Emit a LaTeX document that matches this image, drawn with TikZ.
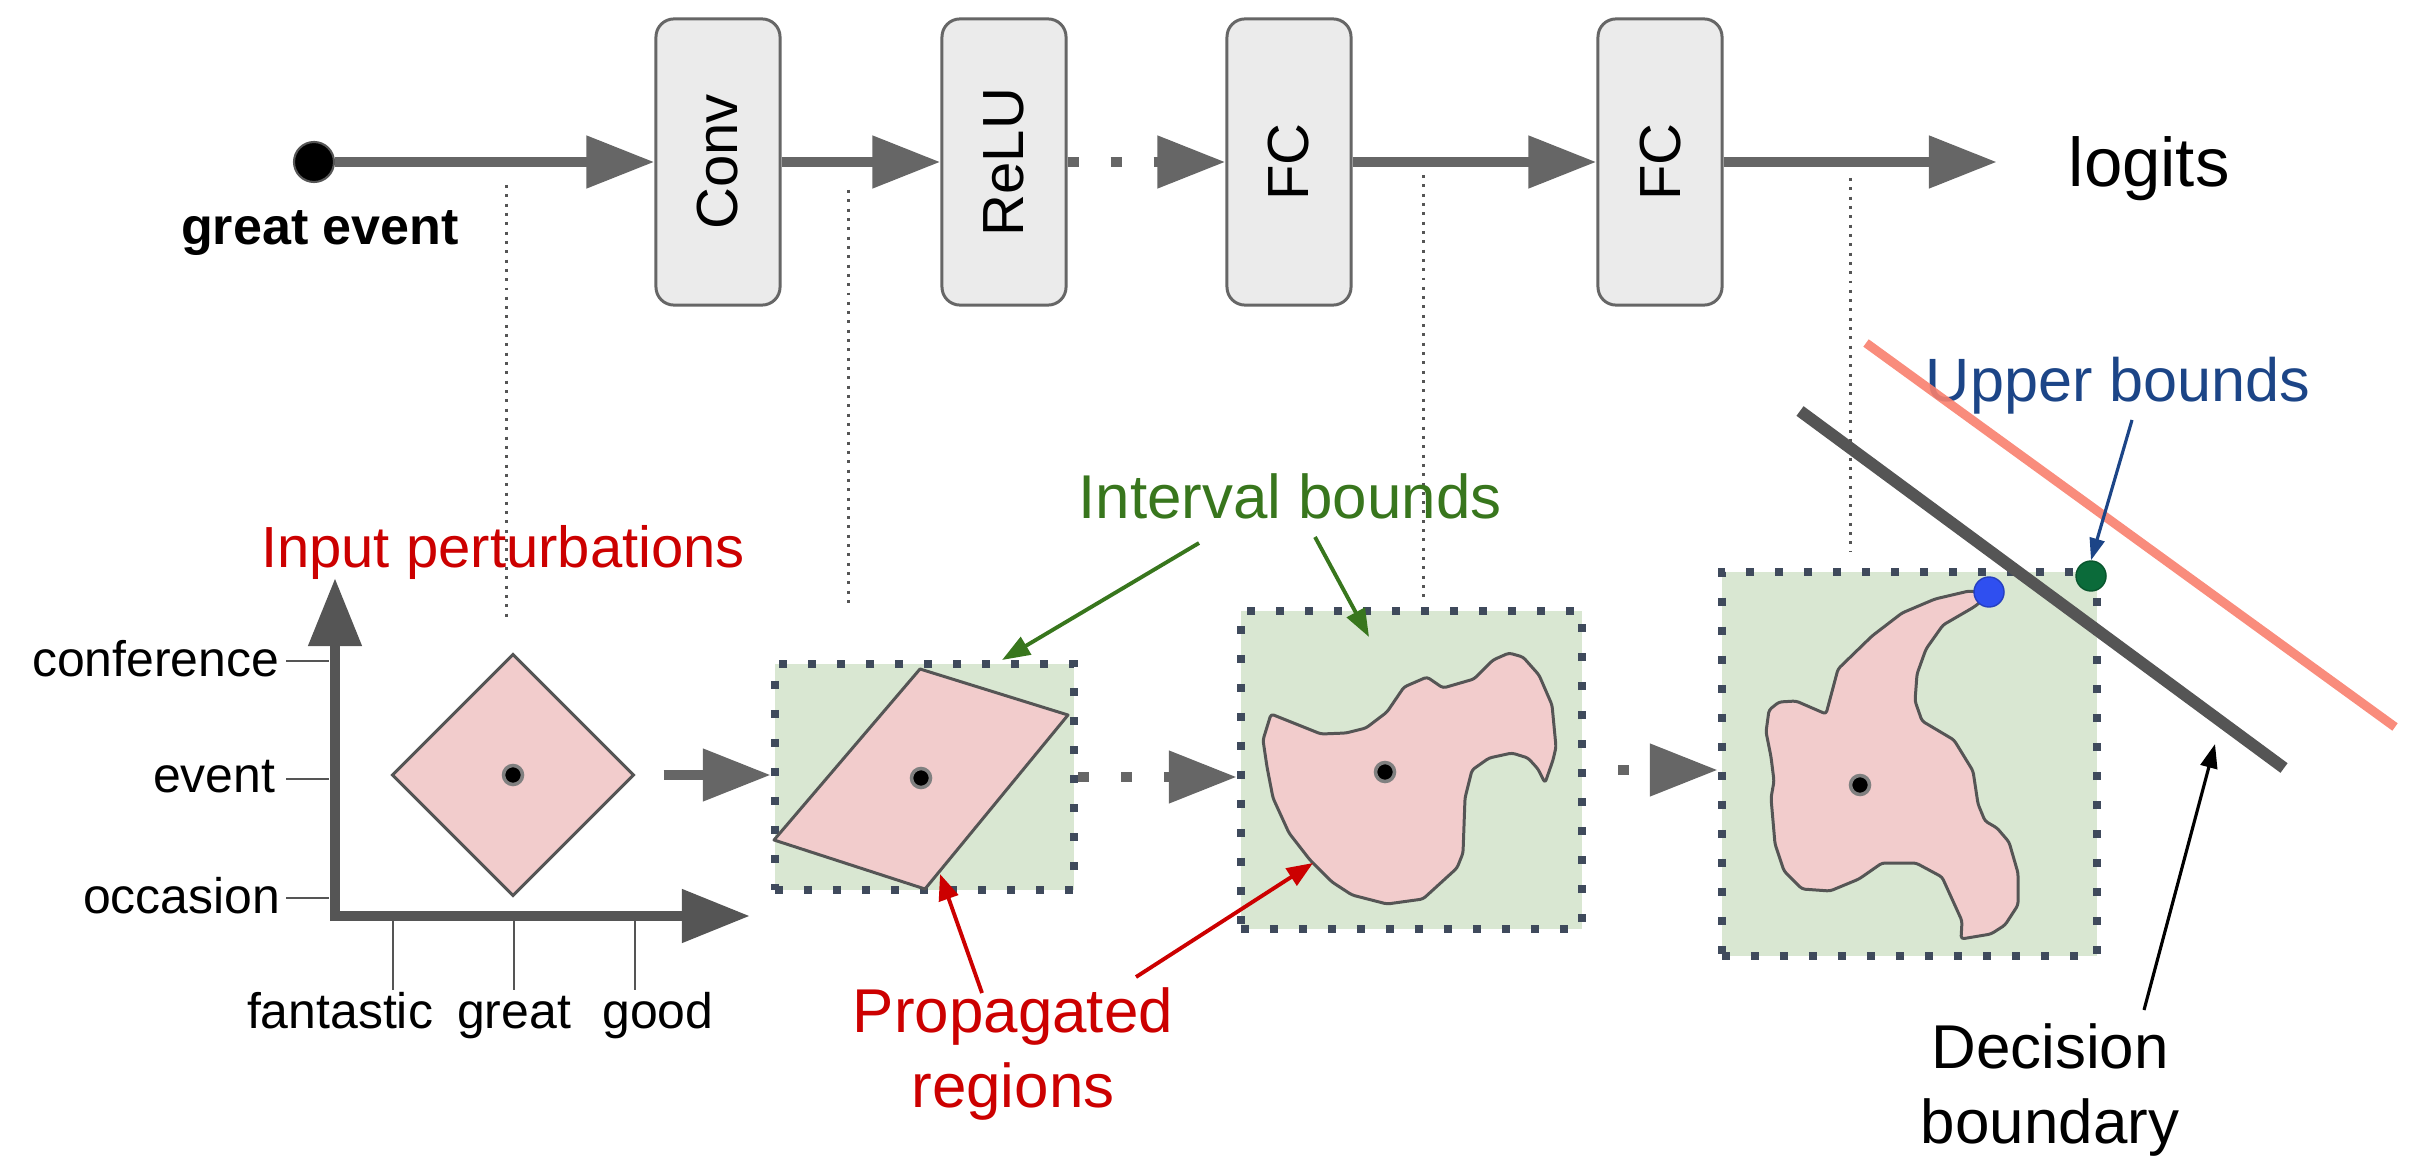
\documentclass[tikz,border=0pt]{standalone}
\usepackage{fontspec}
\usepackage{graphicx}
\setmainfont{Liberation Sans}
\usetikzlibrary{arrows.meta,shapes.geometric}
\definecolor{arrowgray}{HTML}{666666}
\definecolor{axisgray}{HTML}{555555}
\definecolor{boxfill}{HTML}{EBEBEB}
\definecolor{pinkfill}{HTML}{F2CCCC}
\definecolor{greenfill}{HTML}{D9E7D2}
\definecolor{bordercol}{HTML}{3F4A5C}
\definecolor{ibgreen}{HTML}{38761D}
\definecolor{pred}{HTML}{CC0000}
\definecolor{ubblue}{HTML}{1C4587}
\definecolor{salmonline}{HTML}{F8806E}
\definecolor{dotgreen}{HTML}{0B6B3A}
\definecolor{dotblue}{HTML}{2F4FF0}
\tikzset{
  layerbox/.style={draw=arrowgray, fill=boxfill, line width=0.85pt, rounded corners=0.18cm,
    minimum width=1.24cm, minimum height=2.86cm, inner sep=0pt, font=\fontsize{16.5}{20}\selectfont},
  flowarrow/.style={draw=arrowgray, line width=3.1pt, -{Triangle[length=0.68cm,width=0.5cm]}},
  dotflow/.style={flowarrow, dash pattern=on 3.13pt off 9.1pt},
  axisline/.style={draw=axisgray, line width=3.1pt, -{Triangle[length=0.68cm,width=0.51cm]}},
  axtick/.style={draw=axisgray, line width=0.8pt},
  axlabel/.style={font=\fontsize{14.2}{17}\selectfont, inner sep=0pt},
  ibox/.style={fill=greenfill, draw=bordercol, line width=2.3pt, dash pattern=on 2.3pt off 5.95pt, inner sep=0pt},
  pinkregion/.style={draw=axisgray, fill=pinkfill, line width=0.85pt, line join=round},
  cdot/.style={circle, fill=black, draw=gray, line width=1pt, minimum size=0.19cm, inner sep=0pt},
  vdots/.style={draw=axisgray, line width=0.85pt, dash pattern=on 0.85pt off 1.8pt},
  garrow/.style={draw=ibgreen, line width=1.1pt, -{Triangle[length=0.28cm,width=0.2cm]}},
  rarrow/.style={draw=pred, line width=1.1pt, -{Triangle[length=0.26cm,width=0.2cm]}},
  barrow/.style={draw=ubblue, line width=0.9pt, -{Triangle[length=0.22cm,width=0.15cm]}},
  karrow/.style={draw=black, line width=0.9pt, -{Triangle[length=0.24cm,width=0.17cm]}},
  biglabel/.style={inner sep=0pt, font=\fontsize{17.6}{21.3}\selectfont, align=center}
}
\begin{document}
\begin{tikzpicture}[x=0.01cm,y=-0.01cm]
\useasboundingbox (0,0) rectangle (2422,1158);

% ---------- top pipeline ----------
\node[layerbox] (conv) at (718,162) {\rotatebox{90}{Conv}};
\node[layerbox] (relu) at (1004,162) {\rotatebox{90}{ReLU}};
\node[layerbox] (fc1) at (1289,162) {\rotatebox{90}{FC}};
\node[layerbox] (fc2) at (1660,162) {\rotatebox{90}{FC}};
\node[circle, fill=black, draw=axisgray, line width=0.6pt, minimum size=0.4cm, inner sep=0pt] (src) at (314,162) {};
\node[anchor=base, inner sep=0pt, font=\fontsize{14.8}{18}\selectfont\bfseries] (inp) at (320,245) {great event};
\node[anchor=base west, inner sep=0pt, font=\fontsize{19.6}{24}\selectfont] (logits) at (2068,187) {logits};
\coordinate (ltip) at (1997,162);

\draw[flowarrow] (src.east) -- (conv.west);
\draw[flowarrow] (conv.east) -- (relu.west);
\draw[dotflow] (relu.east) -- (fc1.west);
\draw[flowarrow] (fc1.east) -- (fc2.west);
\draw[flowarrow] (fc2.east) -- (ltip);

% dotted guide lines
\draw[vdots] (506,185) -- (506,618);
\draw[vdots] (848,190) -- (848,606);
\draw[vdots] (1423,175) -- (1423,603);
\draw[vdots] (1850,178) -- (1850,551);

% ---------- input space ----------
\coordinate (origin) at (335,916);
\draw[axisline] (335,921) -- (335,578);
\draw[axisline] (330,916) -- (750,916);
\draw[axtick] (286,661) -- (329,661);
\draw[axtick] (286,779) -- (329,779);
\draw[axtick] (286,898) -- (329,898);
\draw[axtick] (393,921) -- (393,990);
\draw[axtick] (514,921) -- (514,990);
\draw[axtick] (635,921) -- (635,990);
\node[axlabel, anchor=east] (lconf) at (280,659) {conference};
\node[axlabel, anchor=east] (levent) at (276,777) {event};
\node[axlabel, anchor=east] (locc) at (281,896) {occasion};
\node[axlabel, anchor=base] (lfan) at (340,1028) {fantastic};
\node[axlabel, anchor=base] (lgreat) at (514,1028) {great};
\node[axlabel, anchor=base] (lgood) at (658,1028) {good};

\node[diamond, aspect=1, draw=axisgray, fill=pinkfill, line width=0.85pt,
      minimum width=2.42cm, minimum height=2.42cm, inner sep=0pt] (diam) at (513,775) {};
\node[cdot] (c0) at (513,775) {};
\node[inner sep=0pt, anchor=base, text=pred, font=\fontsize{16.5}{20}\selectfont] (ipert) at (503,567) {Input perturbations};

% ---------- box 1 ----------
\node[ibox, minimum width=2.99cm, minimum height=2.26cm] (b1) at (924.5,777) {};
\draw[pinkregion] (920,669) -- (1068,715) -- (925,889) -- (774,840) -- cycle;
\node[cdot] (c1) at (921,778) {};
\draw[flowarrow, shorten <=0.28cm] (diam.east) -- (diam.east -| b1.west);

% ---------- box 2 ----------
\node[ibox, minimum width=3.41cm, minimum height=3.18cm] (b2) at (1411.5,770) {};
\draw[pinkregion, rounded corners=0.03cm] (1271,714) -- (1321,734) -- (1346,733) -- (1366,728) -- (1387,712) -- (1404,687) -- (1427,677) -- (1443,688) -- (1474,679) -- (1493,660) -- (1509,653) -- (1523,657) -- (1539,675) -- (1552,705) -- (1556,747) -- (1553,760) -- (1545,783) -- (1538,769) -- (1528,758) -- (1512,753) -- (1489,758) -- (1472,770) -- (1465,798) -- (1463,853) -- (1457,868) -- (1423,899) -- (1387,904) -- (1352,895) -- (1332,882) -- (1310,860) -- (1289,833) -- (1273,798) -- (1267,767) -- (1263,740) -- cycle;
\node[cdot] (c2) at (1385,772) {};
\draw[dotflow] (b1.east) -- (b1.east -| b2.west);

% ---------- box 3 ----------
\node[ibox, minimum width=3.75cm, minimum height=3.84cm] (b3) at (1909.5,764) {};
\draw[pinkregion, rounded corners=0.03cm] (1992,593) -- (1969,591) -- (1935,599) -- (1902,613) -- (1872,636) -- (1838,669) -- (1826,714) -- (1796,701) -- (1779,702) -- (1769,710) -- (1766,732) -- (1771,757) -- (1774,781) -- (1771,798) -- (1775,844) -- (1784,871) -- (1802,889) -- (1830,891) -- (1859,879) -- (1882,863) -- (1916,863) -- (1942,877) -- (1962,921) -- (1961,939) -- (1991,934) -- (2005,925) -- (2018,905) -- (2018,873) -- (2009,842) -- (1997,828) -- (1985,821) -- (1978,804) -- (1973,771) -- (1954,740) -- (1922,721) -- (1915,701) -- (1917,674) -- (1926,649) -- (1943,625) -- (1974,607) -- cycle;
\node[cdot] (c3) at (1860,785) {};
\draw[dotflow, dash phase=3.13pt] (b2.east) -- (b2.east -| b3.west);

% ---------- decision boundary and upper bound ----------
\coordinate (db1) at (1800,411);
\coordinate (db2) at (2284,768);
\draw[draw=axisgray, line width=3.4pt] (db1) -- (db2);
\node[inner sep=0pt, anchor=base, text=ubblue, font=\fontsize{17.4}{21}\selectfont] (ub) at (2118,401) {Upper bounds};
\coordinate (sl1) at (1866,343);
\coordinate (sl2) at (2395,727);
\draw[draw=salmonline, line width=2.6pt, opacity=0.9] (sl1) -- (sl2);
\node[circle, fill=dotblue, draw=dotblue!80!black, line width=0.4pt, minimum size=0.3cm, inner sep=0pt] (bdot) at (1989,592) {};
\node[circle, fill=dotgreen, draw=dotgreen!80!black, line width=0.4pt, minimum size=0.3cm, inner sep=0pt] (gdot) at (2091,576) {};

% ---------- annotation labels ----------
\node[biglabel, anchor=base, text=ibgreen] (ib) at (1290,518) {Interval bounds};
\node[biglabel, text=pred] (pr) at (1013,1054) {Propagated\\regions};
\node[biglabel, text=black] (dbl) at (2050,1090) {Decision\\boundary};

\coordinate (ib1s) at (1199,543);
\coordinate (ib1e) at (1002,660);
\coordinate (ib2s) at (1315,537);
\coordinate (ib2e) at (1369,637);
\draw[garrow] (ib1s) -- (ib1e);
\draw[garrow] (ib2s) -- (ib2e);

\coordinate (pr1s) at (982,993);
\coordinate (pr1e) at (940,874);
\coordinate (pr2s) at (1136,977);
\coordinate (pr2e) at (1313,863);
\draw[rarrow] (pr1s) -- (pr1e);
\draw[rarrow] (pr2s) -- (pr2e);

\coordinate (ubs) at (2132,420);
\draw[barrow] (ubs) -- (gdot.north);

\coordinate (dbs) at (2144,1010);
\coordinate (dbe) at (2215,744);
\draw[karrow] (dbs) -- (dbe);
\end{tikzpicture}
\end{document}
